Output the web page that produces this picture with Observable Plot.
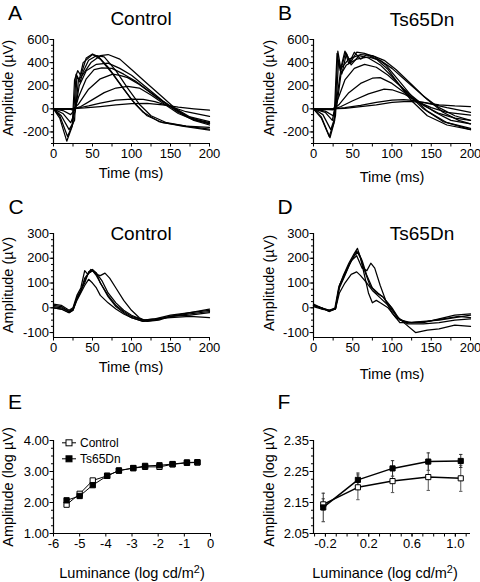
<!DOCTYPE html>
<html><head><meta charset="utf-8">
<script src="https://cdn.jsdelivr.net/npm/d3@7"></script>
<script src="https://cdn.jsdelivr.net/npm/@observablehq/plot@0.6"></script>
<style>
body{margin:0;background:#fff}
#root{position:relative;width:480px;height:582px;overflow:hidden;font-family:"Liberation Sans",Arial,Helvetica,sans-serif;color:#000;background:#fff}
#root > svg{position:absolute}
.t{position:absolute;white-space:nowrap;line-height:1.2;transform:translate(-50%,-50%)}
.r{line-height:1;transform:translate(-50%,-50%) rotate(-90deg)}
.leg{position:absolute;white-space:nowrap;line-height:1.2;font-size:12px;display:flex;align-items:center;transform:translateY(-50%)}
</style></head><body><div id="root"></div><script>
// ---------- DATA ----------
// Panel A: Control, flash intensity series (time ms, amplitude µV)
const controlFlashTraces = [
 [[0,0],[20,0],[40,8],[60,20],[80,35],[100,45],[120,48],[140,35],[160,15],[180,0],[200,-12]],
 [[0,0],[22,0],[30,5],[45,25],[60,50],[80,75],[100,85],[115,82],[130,62],[150,20],[170,-25],[200,-65]],
 [[0,0],[25,0],[35,20],[50,80],[65,140],[80,180],[95,195],[110,180],[125,120],[140,50],[160,-40],[180,-95],[200,-125]],
 [[0,0],[25,0],[32,40],[45,170],[60,260],[70,285],[76,300],[85,290],[95,270],[110,210],[130,110],[150,20],[170,-60],[190,-110],[200,-130]],
 [[0,0],[22,-5],[27,-15],[32,100],[42,260],[52,340],[62,355],[75,350],[90,300],[105,240],[125,140],[145,40],[160,-30],[180,-100],[200,-140]],
 [[0,0],[12,-15],[22,-50],[28,0],[33,200],[42,330],[55,385],[70,395],[85,350],[100,290],[120,180],[140,70],[155,0],[175,-80],[200,-120]],
 [[0,0],[12,-40],[22,-120],[28,-20],[32,250],[38,300],[48,400],[60,460],[70,470],[85,430],[100,340],[120,220],[140,100],[155,10],[175,-70],[200,-110]],
 [[0,0],[10,-60],[20,-180],[27,-100],[30,280],[34,230],[38,320],[45,420],[55,460],[65,450],[80,330],[95,180],[110,40],[125,-60],[145,-120],[170,-150],[200,-160]],
 [[0,0],[8,-60],[18,-240],[25,-130],[29,300],[33,250],[38,400],[50,470],[60,430],[75,310],[90,170],[105,40],[120,-60],[140,-120],[170,-150],[200,-175]],
 [[0,0],[8,-80],[17,-280],[24,-150],[27,250],[31,330],[35,290],[42,440],[50,475],[58,450],[70,360],[85,220],[100,80],[115,-30],[135,-110],[165,-150],[200,-185]]
];
// Panel B: Ts65Dn, flash intensity series
const tsFlashTraces = [
 [[0,0],[20,0],[40,5],[60,20],[80,35],[100,55],[120,65],[140,55],[160,35],[180,25],[200,20]],
 [[0,0],[25,0],[40,10],[60,30],[80,55],[100,75],[115,80],[130,70],[150,40],[170,10],[200,-30]],
 [[0,-5],[25,-5],[35,20],[50,70],[70,130],[90,170],[100,165],[115,130],[130,70],[150,10],[170,-30],[200,-55]],
 [[0,-5],[25,-5],[33,40],[45,140],[60,220],[75,265],[85,270],[100,220],[120,120],[140,30],[160,-40],[180,-80],[200,-100]],
 [[0,0],[25,-10],[32,100],[40,250],[52,350],[65,385],[80,360],[95,290],[115,170],[135,60],[155,-30],[175,-100],[200,-130]],
 [[0,0],[15,-20],[25,-60],[30,40],[35,300],[42,380],[55,430],[70,450],[85,420],[100,350],[120,230],[140,110],[160,10],[180,-60],[200,-100]],
 [[0,0],[12,-50],[22,-180],[28,-60],[32,420],[36,300],[42,480],[48,380],[58,460],[70,440],[85,380],[100,280],[120,130],[140,0],[165,-110],[200,-170]],
 [[0,0],[10,-80],[20,-240],[26,-120],[30,480],[34,330],[40,500],[45,390],[52,490],[60,430],[68,470],[80,430],[95,340],[110,200],[125,70],[145,-60],[170,-140],[200,-180]],
 [[0,0],[10,-70],[21,-250],[27,-100],[31,500],[35,340],[41,490],[47,400],[55,490],[65,480],[78,450],[92,380],[108,250],[125,110],[145,-20],[170,-120],[200,-180]],
 [[0,0],[15,-30],[24,-100],[30,100],[35,350],[45,430],[60,470],[75,460],[90,420],[105,340],[125,210],[145,80],[165,-30],[185,-100],[200,-130]]
];
// Panel C: Control, photopic responses
const controlPhotopicTraces = [
 [[0,10],[10,5],[20,-15],[25,-5],[30,40],[35,70],[40,100],[45,145],[50,155],[55,140],[60,100],[70,50],[80,10],[90,-15],[100,-35],[115,-50],[130,-45],[150,-30],[175,-20],[200,-10]],
 [[0,0],[10,-5],[20,-20],[25,-10],[30,30],[35,60],[40,90],[45,115],[50,100],[55,80],[60,50],[70,20],[80,-5],[90,-25],[100,-40],[115,-55],[130,-50],[150,-35],[175,-25],[200,-15]],
 [[0,5],[10,0],[20,-15],[25,-5],[30,40],[35,70],[40,110],[45,140],[50,150],[55,135],[60,130],[66,140],[72,120],[80,80],[90,30],[100,-10],[110,-40],[120,-55],[135,-50],[150,-35],[175,-30],[200,-20]],
 [[0,15],[10,10],[20,-10],[25,0],[30,50],[35,80],[40,150],[44,135],[48,155],[55,140],[62,110],[70,60],[80,20],[90,-10],[100,-30],[115,-50],[130,-45],[150,-40],[175,-35],[200,-40]],
 [[0,0],[10,-5],[20,-20],[25,-10],[30,35],[35,65],[40,120],[45,140],[50,150],[55,130],[62,90],[70,45],[80,5],[90,-20],[100,-40],[115,-55],[130,-48],[150,-35],[175,-20],[200,-5]]
];
// Panel D: Ts65Dn, photopic responses
const tsPhotopicTraces = [
 [[0,10],[10,0],[20,-15],[27,-5],[32,80],[38,130],[45,180],[52,220],[56,240],[60,200],[65,130],[70,60],[75,20],[80,30],[85,20],[95,0],[105,-40],[120,-60],[140,-55],[160,-50],[180,-40],[200,-30]],
 [[0,5],[10,-5],[20,-10],[28,0],[33,90],[38,120],[45,170],[52,210],[57,225],[62,190],[68,130],[75,80],[82,60],[90,40],[100,-20],[110,-60],[120,-60],[140,-60],[160,-45],[180,-30],[200,-25]],
 [[0,15],[10,0],[20,-10],[28,-5],[33,60],[40,100],[48,135],[55,145],[60,130],[68,100],[75,70],[85,40],[95,10],[105,-30],[115,-60],[130,-100],[145,-90],[160,-85],[180,-70],[200,-75]],
 [[0,10],[10,0],[20,-10],[28,-3],[33,80],[40,130],[48,190],[55,210],[62,160],[68,150],[73,180],[78,160],[85,90],[92,30],[100,0],[110,-50],[125,-60],[145,-55],[165,-45],[185,-35],[200,-40]],
 [[0,10],[10,0],[20,-15],[28,-5],[33,90],[40,140],[48,190],[55,230],[60,200],[65,150],[72,90],[80,60],[88,45],[97,10],[107,-40],[120,-65],[140,-65],[160,-60],[180,-50],[200,-45]]
];
// Panel E: amplitude vs luminance (log units)
const lumE = [-5.5,-5.0,-4.5,-3.95,-3.5,-2.95,-2.5,-1.95,-1.45,-0.9,-0.5];
const ampEControl = [1.93,2.28,2.71,2.86,3.03,3.11,3.15,3.15,3.23,3.28,3.29];
const errEControl = [0.04,0.05,0.04,0.02,0.02,0.02,0.02,0.02,0.02,0.02,0.02];
const ampETs = [2.07,2.21,2.56,2.86,3.03,3.11,3.18,3.20,3.24,3.29,3.30];
const errETs = [0.04,0.08,0.05,0.02,0.02,0.02,0.02,0.02,0.02,0.02,0.02];
// Panel F: photopic amplitude vs luminance
const lumF = [-0.22,0.10,0.42,0.75,1.05];
const ampFControl = [2.144,2.199,2.219,2.232,2.228];
const errFControl = [0.018,0.040,0.037,0.043,0.042];
const ampFTs = [2.134,2.223,2.260,2.282,2.284];
const errFTs = [0.046,0.022,0.025,0.028,0.021];
// Tick labels
const ticksTime = [0,50,100,150,200];
const ticksAmpAB = [-200,0,200,400,600];
const ticksAmpCD = [-100,0,100,200,300];
const ticksLumE = [-6,-5,-4,-3,-2,-1,0];
const ticksAmpE = [1,2,3,4];
const ticksLumF = [-0.2,0.2,0.6,1.0];
const ticksAmpF = [2.05,2.15,2.25,2.35];

// ---------- DRAWING ----------
const root = document.getElementById("root");
const FONT = '"Liberation Sans", Arial, Helvetica, sans-serif';
const capSymbol = {draw(ctx, size){const w = Math.sqrt(size)/2; ctx.moveTo(-w,0); ctx.lineTo(w,0);}};

function toRows(traces){
  const rows = [];
  traces.forEach((tr,i) => tr.forEach(([t,v]) => rows.push({trace:i, t, v})));
  return rows;
}

function panel(o){
  const marks = [
    ...o.marks,
    Plot.ruleX([o.xDomain[0]], {stroke:"#000", strokeWidth:1.2}),
    Plot.ruleY([o.yDomain[0]], {stroke:"#000", strokeWidth:1.2}),
    Plot.axisX({ticks:o.xMinor, tickSize:3.5, tickFormat:() => "", label:null, strokeWidth:1}),
    Plot.axisX({ticks:o.xMajor, tickSize:3.5, tickPadding:1.5, tickFormat:o.xFmt, label:null, strokeWidth:1}),
    Plot.axisY({ticks:o.yMinor, tickSize:2, tickFormat:() => "", label:null, strokeWidth:1}),
    Plot.axisY({ticks:o.yMajor, tickSize:3.5, tickPadding:1, tickFormat:o.yFmt, label:null, strokeWidth:1})
  ];
  const svg = Plot.plot({
    width:o.width, height:o.height,
    marginTop:o.mt, marginRight:o.mr, marginBottom:o.mb, marginLeft:o.ml,
    x:{domain:o.xDomain},
    y:{domain:o.yDomain},
    style:{fontFamily:FONT, fontSize:"13px", color:"#000", background:"transparent", overflow:"visible"},
    marks
  });
  svg.style.left = o.left + "px";
  svg.style.top = o.top + "px";
  root.appendChild(svg);
}

function text(html, x, y, size, rot){
  const d = document.createElement("div");
  d.className = rot ? "t r" : "t";
  d.innerHTML = html;
  d.style.left = x + "px";
  d.style.top = y + "px";
  d.style.fontSize = size + "px";
  root.appendChild(d);
}

const intFmt = d => String(d);
const waveLine = rows => Plot.line(rows, {x:"t", y:"v", z:"trace", stroke:"#000", strokeWidth:1.25, curve:"linear"});

// A
panel({left:0, top:0, width:240, height:190, mt:39, mr:31, mb:47, ml:53,
  xDomain:[0,200], yDomain:[-300,600], xMajor:ticksTime, xMinor:d3.range(25,200,50),
  yMajor:ticksAmpAB, yMinor:d3.range(-300,601,50), xFmt:intFmt, yFmt:intFmt,
  marks:[waveLine(toRows(controlFlashTraces))]});
// B
panel({left:240, top:0, width:240, height:190, mt:39, mr:10, mb:47, ml:73,
  xDomain:[0,200], yDomain:[-300,600], xMajor:ticksTime, xMinor:d3.range(25,200,50),
  yMajor:ticksAmpAB, yMinor:d3.range(-300,601,50), xFmt:intFmt, yFmt:intFmt,
  marks:[waveLine(toRows(tsFlashTraces))]});
// C
panel({left:0, top:190, width:240, height:200, mt:43, mr:31, mb:53, ml:53,
  xDomain:[0,200], yDomain:[-120,300], xMajor:ticksTime, xMinor:d3.range(25,200,50),
  yMajor:ticksAmpCD, yMinor:d3.range(-100,301,25), xFmt:intFmt, yFmt:intFmt,
  marks:[waveLine(toRows(controlPhotopicTraces))]});
// D
panel({left:240, top:190, width:240, height:200, mt:43, mr:10, mb:53, ml:73,
  xDomain:[0,200], yDomain:[-120,300], xMajor:ticksTime, xMinor:d3.range(25,200,50),
  yMajor:ticksAmpCD, yMinor:d3.range(-100,301,25), xFmt:intFmt, yFmt:intFmt,
  marks:[waveLine(toRows(tsPhotopicTraces))]});

function groupMarks(xs, ysC, esC, ysT, esT, r, lw){
  const c = xs.map((x,i) => ({x, y:ysC[i], lo:ysC[i]-esC[i], hi:ysC[i]+esC[i]}));
  const t = xs.map((x,i) => ({x, y:ysT[i], lo:ysT[i]-esT[i], hi:ysT[i]+esT[i]}));
  const bars = (d, col) => [
    Plot.ruleX(d, {x:"x", y1:"lo", y2:"hi", stroke:col, strokeWidth:1}),
    Plot.dot(d, {x:"x", y:"lo", symbol:capSymbol, r:1.9, stroke:col, strokeWidth:1}),
    Plot.dot(d, {x:"x", y:"hi", symbol:capSymbol, r:1.9, stroke:col, strokeWidth:1})
  ];
  return [
    ...bars(c, "#555"), ...bars(t, "#333"),
    Plot.line(c, {x:"x", y:"y", stroke:"#000", strokeWidth:lw}),
    Plot.line(t, {x:"x", y:"y", stroke:"#000", strokeWidth:lw}),
    Plot.dot(c, {x:"x", y:"y", symbol:"square", r:r, fill:"#fff", stroke:"#000", strokeWidth:1}),
    Plot.dot(t, {x:"x", y:"y", symbol:"square", r:r, fill:"#000", stroke:"#000", strokeWidth:1})
  ];
}

// E
panel({left:0, top:390, width:240, height:192, mt:50, mr:30, mb:49, ml:53,
  xDomain:[-6,0], yDomain:[1,4], xMajor:ticksLumE, xMinor:[],
  yMajor:ticksAmpE, yMinor:d3.range(1,4.01,0.25), xFmt:intFmt, yFmt:d => d.toFixed(2),
  marks:groupMarks(lumE, ampEControl, errEControl, ampETs, errETs, 3, 1)});
// F
panel({left:240, top:390, width:240, height:192, mt:50, mr:10, mb:49, ml:73,
  xDomain:[-0.31,1.14], yDomain:[2.05,2.35], xMajor:ticksLumF, xMinor:d3.range(-0.3,1.15,0.1).map(d => +d.toFixed(2)),
  yMajor:ticksAmpF, yMinor:d3.range(2.05,2.351,0.025).map(d => +d.toFixed(3)), xFmt:d => d.toFixed(1), yFmt:d => d.toFixed(2),
  marks:groupMarks(lumF, ampFControl, errFControl, ampFTs, errFTs, 2.9, 1.5)});

// ---------- TEXT ----------
text("A", 15, 13, 21); text("B", 285, 13, 21);
text("C", 16, 207, 21); text("D", 285, 207, 21);
text("E", 15, 402, 21); text("F", 284, 402, 21);
text("Control", 141, 19, 19); text("Ts65Dn", 422, 20, 19);
text("Control", 141, 234, 19); text("Ts65Dn", 422, 234, 19);
text("Amplitude (µV)", 8, 88, 14.5, true); text("Amplitude (µV)", 269, 88, 14.5, true);
text("Amplitude (µV)", 8, 285, 14.5, true); text("Amplitude (µV)", 269, 283, 14.5, true);
text("Amplitude (log µV)", 8, 487, 14.5, true); text("Amplitude (log µV)", 269, 487, 14.5, true);
text("Time (ms)", 131, 174, 14.5); text("Time (ms)", 392, 178, 14.5);
text("Time (ms)", 131, 368, 14.5); text("Time (ms)", 392, 375, 14.5);
const lumLabel = 'Luminance (log cd/m<span style="font-size:75%;position:relative;top:-0.45em">2</span>)';
text(lumLabel, 132, 574, 14.5); text(lumLabel, 385, 574, 14.5);

// legend in E
function legendItem(label, fill, y){
  const d = document.createElement("div");
  d.className = "leg";
  d.style.left = "61px"; d.style.top = y + "px";
  d.innerHTML = `<svg width="16" height="10" style="margin-right:3px"><line x1="1" x2="15" y1="5" y2="5" stroke="#000" stroke-width="1"/><rect x="5" y="2" width="6" height="6" fill="${fill}" stroke="#000" stroke-width="1"/></svg>${label}`;
  root.appendChild(d);
}
legendItem("Control", "#fff", 443);
legendItem("Ts65Dn", "#000", 459);
</script></body></html>
